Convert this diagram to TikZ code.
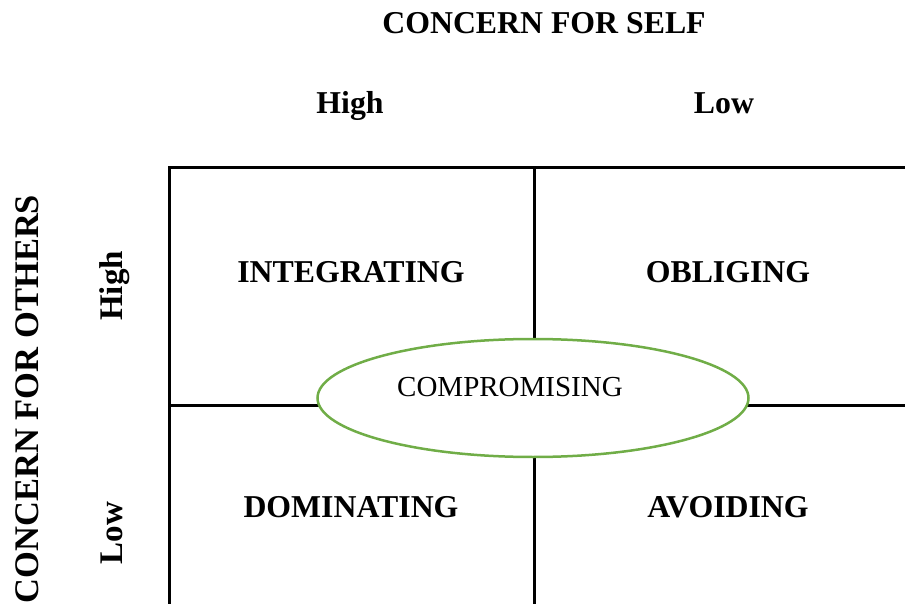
\documentclass[tikz,border=0pt]{standalone}
\usepackage{fontspec}
\setmainfont{Liberation Serif}
\usetikzlibrary{shapes.geometric,positioning}
\definecolor{compgreen}{RGB}{112,173,71}

\begin{document}
\begin{tikzpicture}[x=1pt,y=-1pt,on grid,
	lbl/.style={font=\fontsize{31.8}{36}\selectfont\bfseries},
	side/.style={font=\fontsize{33}{38}\selectfont\bfseries,anchor=base,rotate=90},
	gridline/.style={line width=3pt}]
	\useasboundingbox (0,0) rectangle (905,604);
	% grid corners
	\coordinate (tl) at (169,168);
	\coordinate (tr) at (905,168);
	\coordinate (bl) at (169,604);
	\coordinate (tm) at (534,168);
	\coordinate (bm) at (534,604);
	\coordinate (ml) at (169,405);
	\coordinate (mr) at (905,405);
	\draw[gridline] (bl) -- (tl) -- (tr);
	\draw[gridline] (tm) -- (bm);
	\draw[gridline] (ml) -- (mr);
	% headings
	\node[lbl,anchor=base] (self) at (544,34) {CONCERN FOR SELF};
	\node[lbl,anchor=base] (selfhigh) at (350,114) {High};
	\node[lbl,anchor=base] (selflow) at (724,114) {Low};
	\node[side,font=\fontsize{34.5}{40}\selectfont\bfseries] (others) at (38,399) {CONCERN FOR OTHERS};
	\node[side] (othershigh) at (122,286) {High};
	\node[side] (otherslow) at (122,533) {Low};
	% quadrants
	\node[lbl] (integ) at (351,272) {INTEGRATING};
	\node[lbl] (oblig) [right=377pt of integ] {OBLIGING};
	\node[lbl] (domin) [below=235pt of integ] {DOMINATING};
	\node[lbl] (avoid) [right=377pt of domin] {AVOIDING};
	% middle
	\node[ellipse,draw=compgreen,line width=2.5pt,fill=white,inner sep=0pt,
		minimum width=431pt,minimum height=118pt] (comp) at (533,398) {};
	\node[font=\fontsize{29}{34}\selectfont] (comptext) at (510,387) {COMPROMISING};
\end{tikzpicture}
\end{document}
